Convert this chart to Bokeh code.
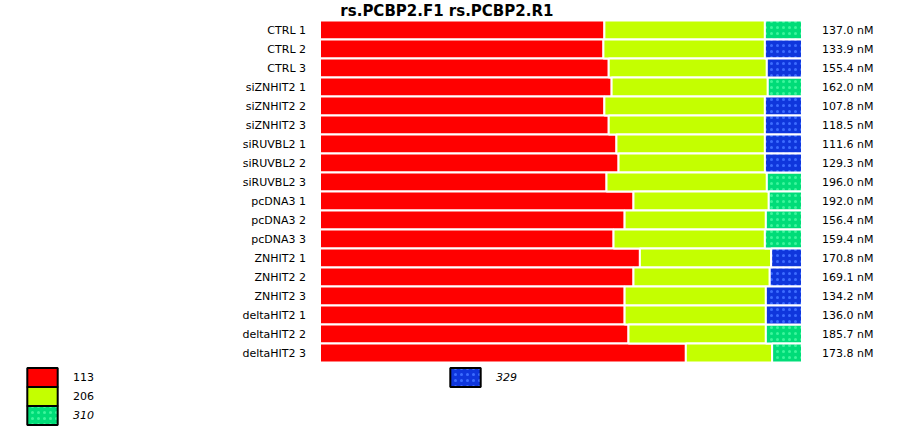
from bokeh.plotting import figure
from bokeh.models import ColumnDataSource, Range1d, Legend, LegendItem, Label
from bokeh.core.properties import value
from bokeh.embed import file_html
from bokeh.resources import INLINE

# ---------------- data ----------------
samples = ["CTRL 1", "CTRL 2", "CTRL 3",
           "siZNHIT2 1", "siZNHIT2 2", "siZNHIT2 3",
           "siRUVBL2 1", "siRUVBL2 2", "siRUVBL2 3",
           "pcDNA3 1", "pcDNA3 2", "pcDNA3 3",
           "ZNHIT2 1", "ZNHIT2 2", "ZNHIT2 3",
           "deltaHIT2 1", "deltaHIT2 2", "deltaHIT2 3"]
pct_113 = [59.0, 58.8, 59.9, 60.5, 59.0, 59.9, 61.5, 62.0, 59.5,
           65.1, 63.2, 60.9, 66.3, 65.1, 63.2, 63.2, 64.0, 75.9]
pct_206 = [33.3, 33.5, 32.8, 32.4, 33.3, 32.4, 30.8, 30.4, 33.3,
           28.1, 29.3, 31.4, 27.2, 28.3, 29.3, 29.3, 28.5, 17.9]
pct_third = [7.7, 7.7, 7.3, 7.1, 7.7, 7.7, 7.7, 7.7, 7.3,
             6.9, 7.5, 7.7, 6.4, 6.7, 7.5, 7.5, 7.5, 6.2]
third_kind = ["310", "329", "329", "310", "329", "329", "329", "329", "310",
              "310", "310", "310", "329", "329", "329", "329", "310", "310"]
conc_nM = [137.0, 133.9, 155.4, 162.0, 107.8, 118.5, 111.6, 129.3, 196.0,
           192.0, 156.4, 159.4, 170.8, 169.1, 134.2, 136.0, 185.7, 173.8]
title_text = "rs.PCBP2.F1  rs.PCBP2.R1"
legend_labels = ["113", "206", "310", "329"]

# ---------------- styles ----------------
FONT = "DejaVu Sans"
C113 = "#ff0000"
C206 = "#c4ff00"
C310, C310_DOT = "#00dc78", "#3cf59c"
C329, C329_DOT = "#0f36dc", "#3c6cff"
HATCH = dict(hatch_pattern="dot", hatch_scale=6, hatch_weight=6)

rows = list(range(len(samples)))
totals = [a + b + c for a, b, c in zip(pct_113, pct_206, pct_third)]
s1 = [a / t * 100 for a, t in zip(pct_113, totals)]
s2 = [(a + b) / t * 100 for a, b, t in zip(pct_113, pct_206, totals)]

src = ColumnDataSource(dict(
    y=rows, zero=[0] * len(rows), b1=s1, b2=s2, full=[100] * len(rows),
    label=samples, conc=[f"{c:.1f} nM" for c in conc_nM]))


def third_source(kind):
    idx = [i for i, k in enumerate(third_kind) if k == kind]
    return ColumnDataSource(dict(y=[rows[i] for i in idx],
                                 b2=[s2[i] for i in idx],
                                 full=[100] * len(idx)))


src310 = third_source("310")
src329 = third_source("329")

W, H = 900, 430
k = 4.82
xs = -319.5 / k
xe = xs + W / k
yb = -29.5 / 19
ya = yb + H / 19

p = figure(width=W, height=H, output_backend="svg", toolbar_location=None,
           x_range=Range1d(xs, xe), y_range=Range1d(ya, yb),
           x_axis_type=None, y_axis_type=None, min_border=0,
           outline_line_color=None, background_fill_color="white",
           border_fill_color="white")

bar = dict(height=1.0, line_color="white", line_width=2)
p.hbar(y="y", left="zero", right="b1", source=src, fill_color=C113, **bar)
p.hbar(y="y", left="b1", right="b2", source=src, fill_color=C206, **bar)
p.hbar(y="y", left="b2", right="full", source=src310, fill_color=C310,
       hatch_color=C310_DOT, **HATCH, **bar)
p.hbar(y="y", left="b2", right="full", source=src329, fill_color=C329,
       hatch_color=C329_DOT, **HATCH, **bar)

p.text(x="zero", y="y", text="label", source=src, x_offset=-14,
       text_align="right", text_baseline="middle", text_font=value(FONT),
       text_font_size="11px", text_color="black")
p.text(x="full", y="y", text="conc", source=src, x_offset=20,
       text_align="left", text_baseline="middle", text_font=value(FONT),
       text_font_size="11px", text_color="black")

p.add_layout(Label(x=449, y=H - 10, x_units="screen", y_units="screen",
                   text=title_text, text_align="center",
                   text_baseline="alphabetic", text_font=FONT,
                   text_font_size="15px", text_font_style="bold",
                   text_color="black"))

# legend proxies (one hidden zero-width entry each, only to carry the swatch style)
lg = dict(line_color="black", line_width=2, height=1, visible=False)
r113 = p.hbar(y=[0], left=[0], right=[0], fill_color=C113, **lg)
r206 = p.hbar(y=[0], left=[0], right=[0], fill_color=C206, **lg)
r310 = p.hbar(y=[0], left=[0], right=[0], fill_color=C310,
              hatch_color=C310_DOT, **HATCH, **lg)
r329 = p.hbar(y=[0], left=[0], right=[0], fill_color=C329,
              hatch_color=C329_DOT, **HATCH, **lg)


def make_legend(label, rend, loc, style):
    return Legend(items=[LegendItem(label=label, renderers=[rend])],
                  location=loc, orientation="vertical",
                  padding=0, margin=0, spacing=0, border_line_color=None,
                  background_fill_alpha=0, glyph_width=38, glyph_height=24,
                  label_height=24, label_standoff=12, label_text_font=FONT,
                  label_text_font_size="11px", label_text_color="black",
                  label_text_font_style=style, label_text_baseline="middle",
                  inactive_fill_alpha=0)


p.add_layout(make_legend(legend_labels[0], r113, (23, H - 389), "normal"), "center")
p.add_layout(make_legend(legend_labels[1], r206, (23, H - 408), "normal"), "center")
p.add_layout(make_legend(legend_labels[2], r310, (23, H - 427), "italic"), "center")
p.add_layout(make_legend(legend_labels[3], r329, (446, H - 389), "italic"), "center")

open("out.html", "w").write(file_html(p, INLINE))
